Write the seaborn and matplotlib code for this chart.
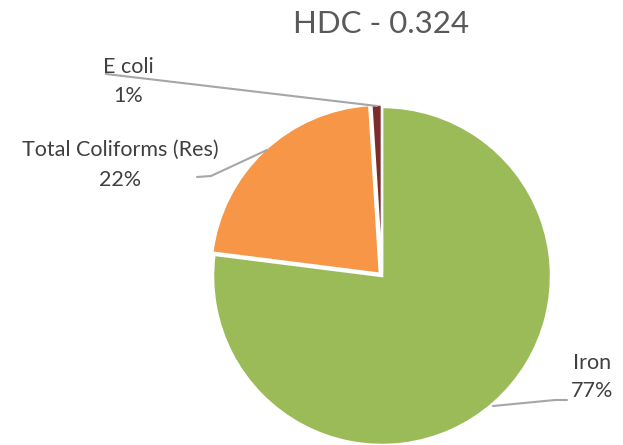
import matplotlib
matplotlib.use("Agg")
import matplotlib.pyplot as plt
import seaborn as sns
from matplotlib.lines import Line2D

categories = ["Iron", "Total Coliforms (Res)", "E coli"]
values = [77, 22, 1]
pct_labels = ["77%", "22%", "1%"]
colors = ["#9BBB59", "#F79646", "#7E2B2B"]
title = "HDC - 0.324"

sns.set_theme(style="white")
plt.rcParams['font.family'] = ['Lato', 'DejaVu Sans']

W, H = 623, 445
fig = plt.figure(figsize=(W / 100, H / 100), dpi=100)

def fx(x):
    return x / W

def fy(y):
    return 1 - y / H

cx, cy, r = 382, 276, 169
ax = fig.add_axes([fx(cx - r), fy(cy + r), 2 * r / W, 2 * r / H])
ax.pie(values, colors=colors, startangle=90, counterclock=False,
       explode=[0, 0.018, 0.015],
       wedgeprops=dict(edgecolor="white", linewidth=1.8))
ax.set_xlim(-1, 1)
ax.set_ylim(-1, 1)
ax.axis("off")

fig.text(fx(381), fy(24), title, ha="center", va="center",
         fontsize=22.5, color="#595959")

label_pos = {"Iron": (592, 363, 391),
             "Total Coliforms (Res)": (120, 150, 180),
             "E coli": (128, 67, 96)}
for cat, pct in zip(categories, pct_labels):
    x, y1, y2 = label_pos[cat]
    fig.text(fx(x), fy(y1), cat, ha="center", va="center", fontsize=15.5, color="#404040")
    fig.text(fx(x), fy(y2), pct, ha="center", va="center", fontsize=15.5, color="#404040")

leaders = [
    [(106, 74), (377, 106)],
    [(197, 177), (211, 176), (267, 150)],
    [(493, 406), (555, 400), (567, 400)],
]
for pts in leaders:
    xs = [fx(p[0]) for p in pts]
    ys = [fy(p[1]) for p in pts]
    fig.add_artist(Line2D(xs, ys, color="#A6A6A6", linewidth=1.5))

fig.savefig("out.png", dpi=100, facecolor="white")
